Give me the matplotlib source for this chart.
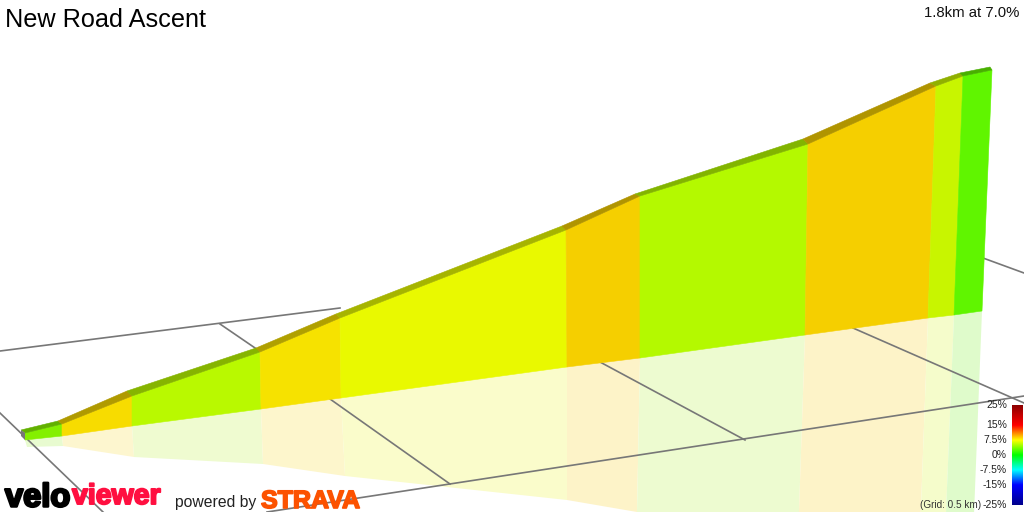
import numpy as np
import matplotlib
matplotlib.use('Agg')
import matplotlib.pyplot as plt
import matplotlib.patheffects as pe
from matplotlib.colors import LinearSegmentedColormap

plt.rcParams['font.family'] = ['Liberation Sans', 'DejaVu Sans']

# profile, in picture pixels (it is a 3D projection)
face_top_x = [25, 62, 132, 260, 340, 566, 640, 808, 936, 963, 992]
face_top_y = [433, 424, 396, 352, 318, 230, 196, 144, 86, 76, 70]
face_bot_x = [25, 62, 132, 261, 341, 567, 640, 805, 928, 954, 982]
face_bot_y = [440, 436, 426, 409, 398, 367, 358, 335, 318, 315, 311]
back_top_x = [21, 58, 127, 256, 336, 562, 635, 803, 930, 960, 990]
back_top_y = [430, 421, 391, 348, 314, 226, 194, 139, 83, 73, 67]
# shadow / reflection below the base
refl_x = [27, 63, 134, 263, 345, 567, 637, 798, 919, 944, 972]
refl_y = [447, 446, 457, 464, 476, 500, 512, 540, 560, 562, 565]

face_colors = ['#84f000', '#f7dc00', '#b9f900', '#f6e200', '#e9f900',
               '#f5cf00', '#b4f900', '#f5cf00', '#c8f500', '#60f500']
top_colors = ['#62b000', '#b09a00', '#86b400', '#b0a000', '#a6b400',
              '#b09400', '#82b400', '#b09400', '#90b000', '#48b000']
refl_colors = ['#e8fbd0', '#fdf6cf', '#effbd0', '#fdf6cc', '#fafccb',
               '#fdf3c8', '#edfbd0', '#fdf3c8', '#f5fccb', '#dffbcb']

grid_lines = [
    ([0, 340], [351, 308]),
    ([220, 258], [324, 350]),
    ([330, 450], [399, 484]),
    ([600, 745], [362, 440]),
    ([853, 1024], [328, 403]),
    ([983, 1024], [258, 273]),
    ([0, 103], [413, 512]),
    ([267, 1024], [512, 396]),
]

legend_labels = ['25%', '15%', '7.5%', '0%', '-7.5%', '-15%', '-25%']
legend_y = [405, 425, 440, 455, 470, 485, 505]
legend_stops = ['#00008b', '#0000ff', '#00ffff', '#00ff00', '#ffff00', '#ff0000', '#8b0000']
legend_pos = [0, 0.2, 0.35, 0.5, 0.65, 0.8, 1]

fig = plt.figure(figsize=(10.24, 5.12), dpi=100)
ax = fig.add_axes([0, 0, 1, 1])
ax.set_xlim(0, 1024)
ax.set_ylim(512, 0)
ax.axis('off')

for xs, ys in grid_lines:
    ax.plot(xs, ys, color='#777777', lw=1.2, zorder=2.5)

for i in range(len(face_colors)):
    # reflection
    ax.fill([face_bot_x[i], face_bot_x[i + 1], refl_x[i + 1], refl_x[i]],
            [face_bot_y[i], face_bot_y[i + 1], refl_y[i + 1], refl_y[i]],
            color=refl_colors[i], lw=0, zorder=2)
    # side face
    ax.fill([face_top_x[i], face_top_x[i + 1], face_bot_x[i + 1], face_bot_x[i]],
            [face_top_y[i], face_top_y[i + 1], face_bot_y[i + 1], face_bot_y[i]],
            color=face_colors[i], ec=face_colors[i], lw=0.4, zorder=3)
    # road surface strip
    ax.fill([back_top_x[i], back_top_x[i + 1], face_top_x[i + 1], face_top_x[i]],
            [back_top_y[i], back_top_y[i + 1], face_top_y[i + 1], face_top_y[i]],
            color=top_colors[i], ec=top_colors[i], lw=0.4, zorder=3)

# small grey end cap at the start of the climb
ax.fill([back_top_x[0], face_top_x[0], face_bot_x[0], back_top_x[0]],
        [back_top_y[0], face_top_y[0], face_bot_y[0], back_top_y[0] + 6],
        color='#777777', lw=0, zorder=3)

ax.text(5, 20, 'New Road Ascent', fontsize=18.2, color='black', va='center', ha='left')
ax.text(1019, 13, '1.8km at 7.0%', fontsize=10.7, color='#111111', va='center', ha='right')

# gradient legend
cmap = LinearSegmentedColormap.from_list('grade', list(zip(legend_pos, legend_stops)))
grad = np.linspace(1, 0, 256).reshape(-1, 1)
ax.imshow(grad, cmap=cmap, extent=(1012, 1023, 505, 405), aspect='auto', zorder=4)
ax.set_xlim(0, 1024)
ax.set_ylim(512, 0)
for lab, y in zip(legend_labels, legend_y):
    ax.text(1007, y, lab, fontsize=7.5, color='#222222', ha='right', va='center', zorder=5)
ax.text(981, 505, '(Grid: 0.5 km)', fontsize=7.2, color='#333333', ha='right', va='center', zorder=5)

# logos
bold = [pe.withStroke(linewidth=1.8, foreground='black')]
ax.text(5, 498, 'velo', fontsize=23.5, fontweight='bold', color='black', va='center',
        ha='left', path_effects=bold, zorder=5)
bold_red = [pe.withStroke(linewidth=1.4, foreground='#ff0f40')]
ax.text(72, 497, 'viewer', fontsize=20.5, fontweight='bold', color='#ff0f40', va='center',
        ha='left', path_effects=bold_red, zorder=5)
ax.text(175, 502, 'powered by', fontsize=11.3, color='#222222', va='center', ha='left', zorder=5)
bold_or = [pe.withStroke(linewidth=1.2, foreground='#fc5200')]
ax.text(261, 501, 'STRAVA', fontsize=18, fontweight='bold', color='#fc5200', va='center',
        ha='left', path_effects=bold_or, zorder=5)

fig.savefig('out.png', dpi=100)
